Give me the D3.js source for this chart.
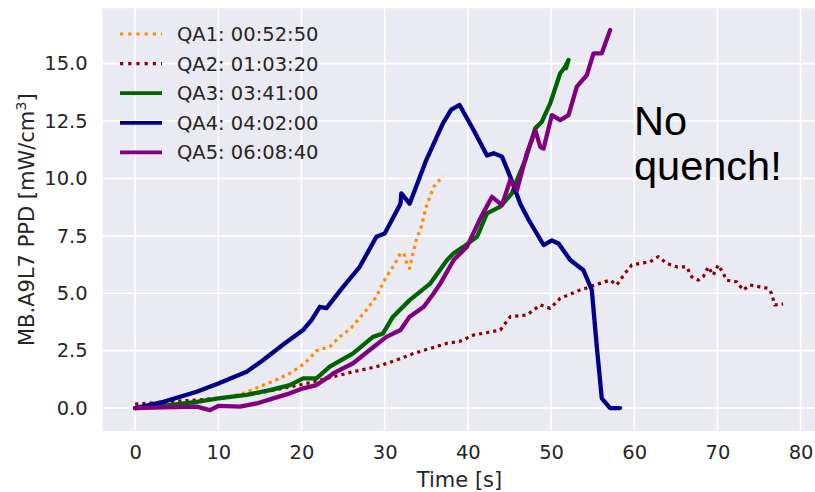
<!DOCTYPE html>
<html>
<head>
<meta charset="utf-8">
<script src="https://cdn.jsdelivr.net/npm/d3@7"></script>
<style>
  body { margin: 0; background: #fff; }
  svg text { font-family: "DejaVu Sans", sans-serif; fill: #262626; }
</style>
</head>
<body>
<div class="canvas"></div>
<script>
// readings: [time s, PPD mW/cm3]
const qa1 = [[0,0],[2,0.02],[4,0.08],[6,0.15],[8,0.28],[10,0.4],[11.4,0.49],[13,0.64],[15,0.93],[16.8,1.2],
  [18.6,1.51],[20,1.85],[21,2.16],[21.8,2.5],[23.4,2.67],[24.6,3.1],[26,3.5],[27.8,4.27],[29,4.85],[30.2,5.72],
  [31,6.15],[31.9,6.74],[32.3,6.74],[32.6,6.37],[33,6.08],[33.4,6.74],[33.9,7.46],[34.3,7.75],[35,8.77],[35.9,9.64],[37,10.1]];
const qa2 = [[0,0.17],[3.8,0.27],[7.4,0.35],[11,0.46],[14.6,0.64],[17.8,0.86],[20.6,1.07],[23.8,1.36],[26.5,1.6],
  [29,1.8],[31.5,2.1],[33.5,2.38],[35.5,2.6],[37.5,2.82],[39,2.9],[40.7,3.18],[42.5,3.3],[43.9,3.4],[45.1,3.98],
  [47.1,4.05],[48.7,4.49],[49.9,4.34],[51.1,4.78],[53.5,5.14],[55.9,5.43],[57.1,5.57],[57.9,5.36],[58.9,5.87],
  [59.7,6.23],[60.7,6.3],[61.9,6.37],[62.9,6.59],[63.9,6.3],[65.1,6.15],[66.3,6.15],[66.9,5.72],[67.7,5.57],
  [68.3,5.72],[68.9,6.15],[69.5,5.79],[70.1,6.23],[70.7,5.87],[71.1,5.57],[72.3,5.5],[73.1,5.14],[73.9,5.36],
  [75.1,5.28],[76.1,5.21],[76.5,5.0],[76.9,4.49],[77.9,4.53]];
const qa3 = [[0,0],[3.4,0.09],[7.4,0.27],[10,0.42],[13.4,0.57],[16.2,0.78],[18.6,1.0],[20.2,1.29],[21.8,1.29],
  [23.4,1.8],[26.2,2.38],[28.6,3.1],[29.8,3.25],[31,3.98],[33,4.7],[35.5,5.43],[37.5,6.45],[38.3,6.74],[39.5,7.03],
  [41.1,7.46],[42.3,8.48],[43.9,8.77],[45.3,9.35],[45.9,9.93],[46.9,10.8],[48.1,12.18],[48.9,12.47],[49.9,13.27],
  [51.1,14.58],[51.7,14.86],[52.1,15.16],[51.8,14.8]];
const qa4 = [[0,0],[3.4,0.27],[7.4,0.71],[10,1.07],[13.4,1.58],[15.4,2.09],[18,2.82],[20.2,3.4],[21.2,3.83],
  [22.2,4.41],[23,4.35],[25,5.28],[27,6.15],[29,7.46],[30,7.6],[31.9,8.9],[32,9.35],[33,8.9],[35,10.8],[37,12.4],
  [38,13.0],[39,13.2],[40.7,12.1],[42.3,11.0],[43.1,11.1],[44.1,10.95],[45.1,10.07],[46.3,8.9],[47.3,8.2],
  [49.1,7.1],[50.1,7.3],[50.9,7.17],[52.3,6.45],[53.9,6.0],[54.9,5.14],[55.5,2.67],[56.1,0.42],[57.1,0],[58.3,0]];
const qa5 = [[0,0],[3.4,0.03],[7.4,0.06],[9,-0.09],[10,0.09],[12.6,0.06],[14.6,0.2],[16.6,0.42],[18.6,0.64],
  [20.2,0.86],[21.8,1.0],[23.4,1.39],[23.8,1.51],[26.2,1.95],[28.2,2.53],[30.2,3.1],[31.9,3.4],[33,3.98],
  [34.7,4.41],[35.9,5.0],[36.7,5.43],[38.3,6.45],[39.9,7.03],[41.5,8.26],[42.9,9.2],[44.1,8.84],[45.1,9.93],
  [45.9,9.49],[47.1,11.1],[48.1,12.1],[48.7,11.38],[49.1,11.3],[50.1,12.76],[51.1,12.54],[52.1,12.76],
  [53.1,14.0],[54.3,14.5],[55.1,15.45],[56.1,15.45],[57.1,16.46]];

const seriesNames = ["QA1: 00:52:50", "QA2: 01:03:20", "QA3: 03:41:00", "QA4: 04:02:00", "QA5: 06:08:40"];
const seriesColors = ["#ff8c00", "#8b0000", "#006400", "#00008b", "#800080"];
const seriesDotted = [true, true, false, false, false];
const seriesData = [qa1, qa2, qa3, qa4, qa5];

const xTicks = [0, 10, 20, 30, 40, 50, 60, 70, 80];
const yTicks = [0, 2.5, 5, 7.5, 10, 12.5, 15];

const width = 815;
const height = 492;
const marginTop = 8.3;
const marginRight = -1.4;
const marginBottom = 61;
const marginLeft = 102.7;

const x = d3.scaleLinear()
            .domain([-3.9, 81.9])
            .range([marginLeft, width - marginRight]);

const y = d3.scaleLinear()
            .domain([-1.0, 17.41])
            .range([height - marginBottom, marginTop]);

const svg = d3.select(".canvas").append("svg")
              .attr("width", width)
              .attr("height", height);

svg.append("defs").append("clipPath").attr("id", "plot")
   .append("rect")
   .attr("x", marginLeft).attr("y", marginTop)
   .attr("width", width - marginRight - marginLeft)
   .attr("height", height - marginBottom - marginTop);

svg.append("rect")
   .attr("x", marginLeft).attr("y", marginTop)
   .attr("width", width - marginRight - marginLeft)
   .attr("height", height - marginBottom - marginTop)
   .attr("fill", "#eaeaf2");

// grid
const grid = svg.append("g").attr("clip-path", "url(#plot)");
grid.selectAll(".gx").data(xTicks).join("line")
    .attr("x1", d => x(d)).attr("x2", d => x(d))
    .attr("y1", marginTop).attr("y2", height - marginBottom)
    .attr("stroke", "#fff").attr("stroke-width", 1.6);
grid.selectAll(".gy").data(yTicks).join("line")
    .attr("y1", d => y(d)).attr("y2", d => y(d))
    .attr("x1", marginLeft).attr("x2", width - marginRight)
    .attr("stroke", "#fff").attr("stroke-width", 1.6);

// axes
const gx = svg.append("g")
  .attr("transform", translate(0, height - marginBottom))
  .call(d3.axisBottom(x).tickValues(xTicks).tickSize(0).tickPadding(14).tickFormat(d3.format("d")));
const gy = svg.append("g")
  .attr("transform", translate(marginLeft, 0))
  .call(d3.axisLeft(y).tickValues(yTicks).tickSize(0).tickPadding(15).tickFormat(d3.format(".1f")));
[gx, gy].forEach(g => {
  g.select(".domain").remove();
  g.selectAll("text").attr("font-family", "DejaVu Sans").attr("font-size", 19.5).attr("fill", "#262626");
});

// lines
const line = d3.line().x(d => x(d[0])).y(d => y(d[1]));
const lines = svg.append("g").attr("clip-path", "url(#plot)");
seriesData.forEach((data, i) => {
  lines.append("path")
    .attr("d", line(data))
    .attr("fill", "none")
    .attr("stroke", seriesColors[i])
    .attr("stroke-width", seriesDotted[i] ? 3.2 : 4.3)
    .attr("stroke-dasharray", seriesDotted[i] ? "3.2,4" : null)
    .attr("stroke-linejoin", "round")
    .attr("stroke-linecap", seriesDotted[i] ? "butt" : "round");
});

// legend
const legend = svg.append("g");
seriesNames.forEach((name, i) => {
  const ly = 34 + i * 29.6;
  legend.append("line")
    .attr("x1", 120).attr("x2", 162).attr("y1", ly).attr("y2", ly)
    .attr("stroke", seriesColors[i])
    .attr("stroke-width", seriesDotted[i] ? 3.2 : 3.8)
    .attr("stroke-dasharray", seriesDotted[i] ? "3.2,5" : null);
  legend.append("text")
    .attr("x", 177).attr("y", ly + 7)
    .attr("font-size", 19.5)
    .text(name);
});

// annotation
const note = svg.append("text")
  .style("font-family", "'Liberation Sans', Arial, sans-serif")
  .style("fill", "#000")
  .attr("font-size", 41.5);
note.append("tspan").attr("x", 634).attr("y", 135).text("No");
note.append("tspan").attr("x", 634).attr("y", 180).text("quench!");

// axis labels
svg.append("text")
  .attr("x", (marginLeft + width - marginRight) / 2)
  .attr("y", 487)
  .attr("text-anchor", "middle")
  .attr("font-size", 21)
  .text("Time [s]");

const ylab = svg.append("text")
  .attr("transform", translate(34, (marginTop + height - marginBottom) / 2) + " rotate(-90)")
  .attr("text-anchor", "middle")
  .attr("font-size", 21);
ylab.append("tspan").text("MB.A9L7 PPD [mW/cm");
ylab.append("tspan").attr("dy", -8).attr("font-size", 14.5).text("3");
ylab.append("tspan").attr("dy", 8).text("]");

function translate(x, y) {
  return "translate(" + x + ", " + y + ")";
}
</script>
</body>
</html>
